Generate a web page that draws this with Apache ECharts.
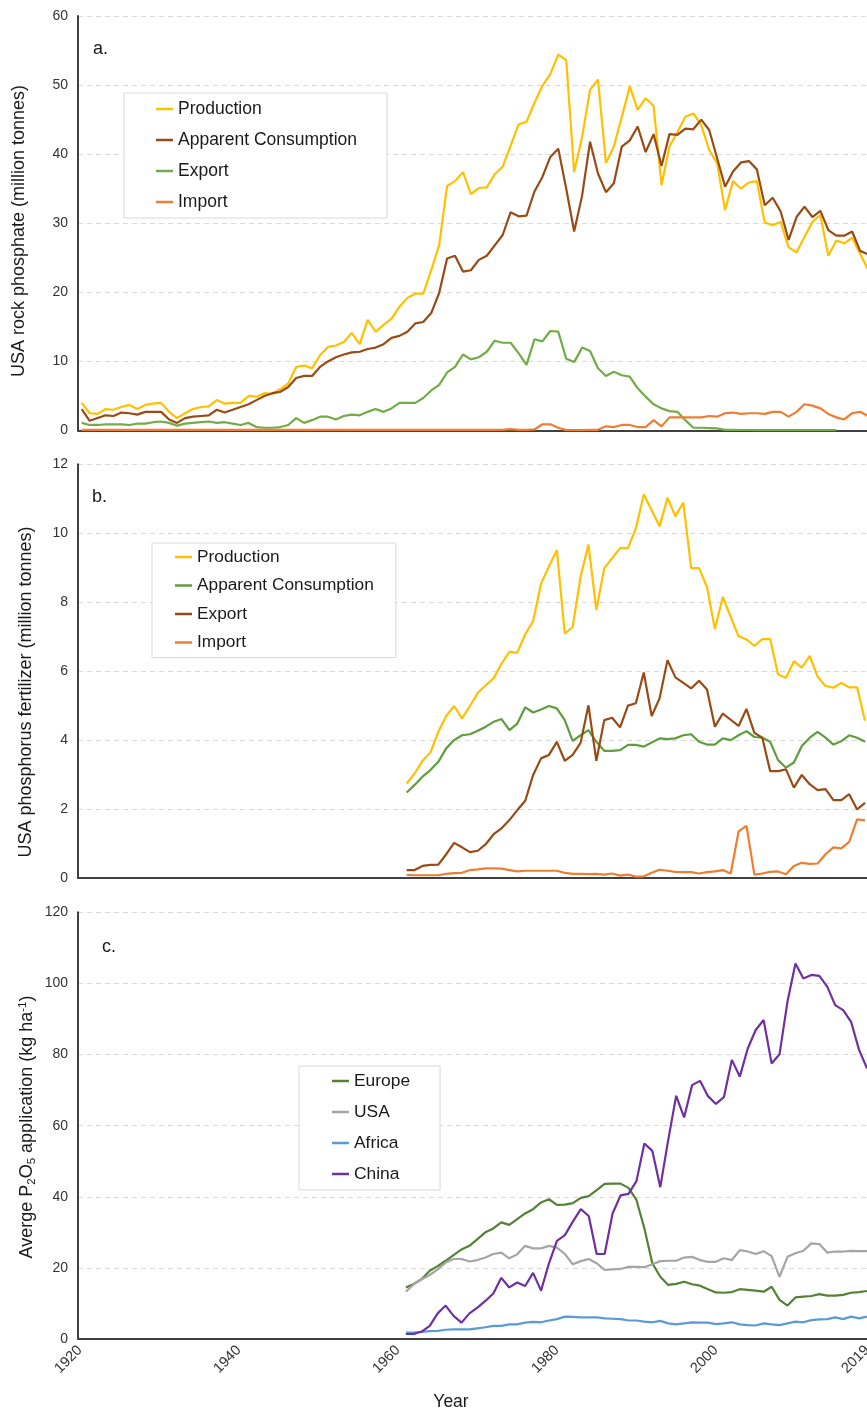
<!DOCTYPE html>
<html>
<head>
<meta charset="utf-8">
<title>USA phosphate rock, phosphorus fertilizer and P2O5 application</title>
<script src="https://cdn.jsdelivr.net/npm/echarts@6.0.0/dist/echarts.min.js"></script>
<style>
  html, body { margin: 0; padding: 0; background: #ffffff; }
  #chart { width: 867px; height: 1412px; }
</style>
</head>
<body>
<div id="chart"></div>
<script>
// ---------- data ----------
function yearRange(first, last) {
  const out = [];
  for (let y = first; y <= last; y++) out.push(y);
  return out;
}

// x axis tick labels (bottom panel)
const yearTicks = [1920, 1940, 1960, 1980, 2000, 2019];

// a. USA rock phosphate, million tonnes
const rockYears = yearRange(1920, 2019);
const rockProduction = [
  4.0, 2.5, 2.4, 3.1, 3.0, 3.4, 3.7, 3.1, 3.7, 3.9,
  4.0, 2.7, 1.8, 2.5, 3.1, 3.4, 3.5, 4.4, 3.9, 4.0,
  4.0, 5.0, 4.9, 5.4, 5.3, 6.0, 6.8, 9.2, 9.4, 9.0,
  10.9, 12.1, 12.3, 12.8, 14.1, 12.5, 16.0, 14.3, 15.3, 16.2,
  17.9, 19.2, 19.8, 19.8, 23.2, 26.8, 35.4, 36.1, 37.4, 34.2,
  35.1, 35.2, 37.1, 38.2, 41.2, 44.3, 44.7, 47.4, 49.9, 51.6,
  54.4, 53.6, 37.4, 42.5, 49.3, 50.8, 38.7, 41.1, 45.4, 49.8,
  46.4, 48.1, 47.0, 35.5, 41.1, 43.2, 45.4, 45.9, 44.2, 40.6,
  38.7, 31.9, 36.1, 35.0, 35.9, 36.1, 30.1, 29.7, 30.2, 26.5,
  25.8, 28.0, 30.2, 31.2, 25.3, 27.5, 27.1, 27.9, 25.6, 23.3
];
const rockConsumption = [
  3.1, 1.4, 1.8, 2.2, 2.1, 2.6, 2.5, 2.3, 2.7, 2.7,
  2.7, 1.6, 1.1, 1.8, 2.0, 2.1, 2.2, 3.0, 2.6, 3.0,
  3.4, 3.8, 4.4, 5.0, 5.4, 5.6, 6.3, 7.6, 7.9, 7.9,
  9.2, 10.0, 10.6, 11.0, 11.3, 11.4, 11.8, 12.0, 12.5, 13.4,
  13.7, 14.3, 15.5, 15.7, 17.0, 19.9, 24.9, 25.3, 23.0, 23.2,
  24.7, 25.3, 26.8, 28.3, 31.6, 31.0, 31.1, 34.6, 36.7, 39.6,
  40.8, 35.0, 28.8, 34.0, 41.8, 37.2, 34.5, 35.8, 41.1, 42.0,
  44.0, 40.3, 42.9, 38.3, 42.9, 42.8, 43.7, 43.6, 45.0, 43.5,
  39.4, 35.3, 37.5, 38.8, 39.0, 37.8, 32.6, 33.7, 31.7, 27.6,
  30.9, 32.4, 30.9, 31.8, 29.0, 28.2, 28.2, 28.8, 26.0, 25.5
];
const rockExportYears = yearRange(1920, 2015);
const rockExport = [
  1.1, 0.8, 0.8, 0.9, 0.9, 0.9, 0.8, 1.0, 1.0, 1.2,
  1.3, 1.1, 0.7, 1.0, 1.1, 1.2, 1.3, 1.1, 1.2, 1.0,
  0.8, 1.1, 0.5, 0.4, 0.4, 0.5, 0.8, 1.8, 1.1, 1.5,
  2.0, 2.0, 1.6, 2.1, 2.3, 2.2, 2.7, 3.1, 2.7, 3.2,
  4.0, 4.0, 4.0, 4.7, 5.8, 6.6, 8.4, 9.2, 11.0, 10.3,
  10.6, 11.4, 13.0, 12.7, 12.7, 11.2, 9.5, 13.2, 12.9, 14.4,
  14.3, 10.4, 9.9, 12.0, 11.5, 9.0, 7.9, 8.5, 8.0, 7.8,
  6.1, 4.9, 3.8, 3.2, 2.8, 2.7, 1.5, 0.4, 0.4, 0.35,
  0.3, 0.08, 0.08, 0.07, 0.07, 0.06, 0.06, 0.06, 0.06, 0.05,
  0.05, 0.05, 0.05, 0.05, 0.05, 0.05
];
const rockImport = [
  0.1, 0.1, 0.1, 0.1, 0.1, 0.1, 0.1, 0.1, 0.1, 0.1,
  0.1, 0.1, 0.1, 0.1, 0.1, 0.1, 0.1, 0.1, 0.1, 0.1,
  0.1, 0.1, 0.1, 0.1, 0.1, 0.1, 0.1, 0.1, 0.1, 0.1,
  0.1, 0.1, 0.1, 0.1, 0.1, 0.1, 0.1, 0.1, 0.1, 0.1,
  0.1, 0.1, 0.1, 0.1, 0.1, 0.1, 0.1, 0.1, 0.1, 0.1,
  0.1, 0.1, 0.1, 0.1, 0.2, 0.1, 0.1, 0.15, 0.9, 0.9,
  0.4, 0.05, 0.05, 0.05, 0.1, 0.1, 0.6, 0.5, 0.8, 0.8,
  0.5, 0.5, 1.5, 0.6, 1.9, 1.9, 1.9, 1.9, 1.9, 2.1,
  2.0, 2.5, 2.6, 2.4, 2.5, 2.5, 2.4, 2.7, 2.7, 2.0,
  2.7, 3.8, 3.6, 3.2, 2.4, 1.9, 1.6, 2.5, 2.7, 2.1
];

// b. USA phosphorus fertilizer, million tonnes
const fertYears = yearRange(1961, 2019);
const fertProduction = [
  2.74, 3.03, 3.40, 3.64, 4.24, 4.70, 4.99, 4.63, 4.99, 5.37,
  5.59, 5.79, 6.22, 6.56, 6.54, 7.07, 7.45, 8.54, 9.04, 9.51,
  7.09, 7.28, 8.73, 9.67, 7.77, 8.99, 9.28, 9.57, 9.57, 10.14,
  11.13, 10.67, 10.20, 11.03, 10.49, 10.89, 8.99, 8.99, 8.44, 7.22,
  8.15, 7.57, 7.01, 6.92, 6.73, 6.93, 6.93, 5.90, 5.81, 6.29,
  6.10, 6.44, 5.84, 5.57, 5.52, 5.66, 5.53, 5.53, 4.56
];
const fertConsumption = [
  2.48, 2.70, 2.94, 3.13, 3.37, 3.76, 4.00, 4.14, 4.17, 4.27,
  4.39, 4.53, 4.61, 4.29, 4.48, 4.95, 4.80, 4.89, 4.99, 4.92,
  4.58, 3.98, 4.14, 4.29, 3.95, 3.69, 3.69, 3.71, 3.86, 3.86,
  3.81, 3.93, 4.05, 4.03, 4.05, 4.14, 4.17, 3.95, 3.87, 3.87,
  4.05, 4.00, 4.14, 4.26, 4.09, 4.07, 3.95, 3.42, 3.20, 3.35,
  3.83, 4.07, 4.24, 4.07, 3.87, 3.97, 4.14, 4.07, 3.95
];
const fertExport = [
  0.23, 0.23, 0.35, 0.38, 0.39, 0.69, 1.02, 0.89, 0.75, 0.79,
  0.98, 1.27, 1.44, 1.68, 1.97, 2.24, 2.99, 3.47, 3.57, 3.95,
  3.40, 3.57, 3.92, 5.01, 3.40, 4.58, 4.65, 4.37, 5.00, 5.07,
  5.96, 4.70, 5.21, 6.32, 5.82, 5.66, 5.50, 5.72, 5.47, 4.39,
  4.77, 4.59, 4.41, 4.90, 4.21, 4.07, 3.10, 3.10, 3.15, 2.62,
  2.99, 2.72, 2.55, 2.58, 2.26, 2.26, 2.43, 1.99, 2.18
];
const fertImport = [
  0.09, 0.08, 0.08, 0.08, 0.08, 0.12, 0.14, 0.15, 0.23, 0.25,
  0.28, 0.28, 0.27, 0.23, 0.19, 0.21, 0.21, 0.21, 0.21, 0.21,
  0.15, 0.12, 0.12, 0.11, 0.12, 0.10, 0.13, 0.07, 0.10, 0.04,
  0.05, 0.15, 0.24, 0.21, 0.18, 0.17, 0.17, 0.13, 0.17, 0.19,
  0.23, 0.13, 1.35, 1.51, 0.10, 0.13, 0.18, 0.19, 0.11, 0.35,
  0.44, 0.41, 0.42, 0.69, 0.89, 0.86, 1.05, 1.70, 1.67
];

// c. average P2O5 application, kg per hectare
const p2o5Years = yearRange(1961, 2019);
const p2o5Europe = [
  14.5, 15.5, 16.9, 19.2, 20.5, 22.0, 23.6, 25.2, 26.2, 28.1,
  30.0, 31.1, 32.8, 32.1, 33.7, 35.3, 36.5, 38.4, 39.3, 37.7,
  37.8, 38.2, 39.7, 40.2, 41.9, 43.6, 43.7, 43.7, 42.5, 39.1,
  31.1, 21.3, 17.5, 15.2, 15.5, 16.1, 15.4, 15.0, 14.0, 13.1,
  13.0, 13.2, 14.0, 13.8, 13.6, 13.3, 14.7, 11.0, 9.4, 11.7,
  11.9, 12.1, 12.6, 12.2, 12.2, 12.4, 13.0, 13.2, 13.5
];
const p2o5USA = [
  13.3, 15.4, 16.8, 18.0, 19.6, 21.5, 22.5, 22.5, 21.8, 22.2,
  22.9, 23.9, 24.3, 22.7, 23.8, 26.2, 25.5, 25.5, 26.2, 25.7,
  23.9, 21.0, 21.9, 22.5, 21.3, 19.4, 19.6, 19.7, 20.3, 20.3,
  20.2, 21.0, 21.9, 22.0, 22.0, 22.9, 23.1, 22.2, 21.7, 21.7,
  22.7, 22.2, 25.0, 24.6, 23.9, 24.7, 23.3, 17.5, 23.1, 24.1,
  24.8, 26.9, 26.7, 24.3, 24.6, 24.6, 24.8, 24.7, 24.7
];
const p2o5Africa = [
  1.8, 1.8, 2.0, 2.2, 2.3, 2.6, 2.7, 2.7, 2.7, 3.0,
  3.3, 3.7, 3.7, 4.1, 4.1, 4.6, 4.8, 4.7, 5.2, 5.6,
  6.3, 6.2, 6.1, 6.1, 6.1, 5.8, 5.7, 5.6, 5.2, 5.2,
  4.9, 4.7, 5.1, 4.4, 4.1, 4.4, 4.7, 4.6, 4.6, 4.2,
  4.4, 4.7, 4.1, 3.9, 3.8, 4.4, 4.1, 3.9, 4.4, 4.9,
  4.7, 5.3, 5.5, 5.6, 6.1, 5.6, 6.3, 5.8, 6.3
];
const p2o5China = [
  1.4, 1.4, 2.1, 3.7, 7.2, 9.4, 6.5, 4.6, 7.2, 8.8,
  10.7, 12.8, 17.2, 14.5, 15.9, 14.9, 18.6, 13.6, 21.3, 27.6,
  29.2, 33.0, 36.5, 34.6, 23.9, 23.9, 35.3, 40.4, 40.8, 44.4,
  55.0, 52.9, 42.7, 56.0, 68.4, 62.3, 71.4, 72.6, 68.3, 66.1,
  68.0, 78.5, 73.8, 81.7, 86.9, 89.7, 77.5, 80.1, 94.9, 105.6,
  101.4, 102.4, 102.1, 99.1, 93.9, 92.5, 89.2, 81.3, 76.1
];

// ---------- styling helpers ----------
const FONT = '"Liberation Sans", Arial, Helvetica, sans-serif';
const AXIS_COLOR = '#404040';
const TEXT_COLOR = '#1a1a1a';
// panel b reuses panel a's legend names; a zero-width mark keeps the series apart
const ZW = '\u200b';

function pairs(years, values) {
  return values.map((v, i) => [years[i], v]);
}

function lineSeries(name, years, values, color, panel) {
  return {
    type: 'line',
    name: name,
    xAxisIndex: panel,
    yAxisIndex: panel,
    data: pairs(years, values),
    showSymbol: false,
    symbol: 'none',
    lineStyle: { color: color, width: 2.2 },
    itemStyle: { color: color },
    emphasis: { disabled: true },
    animation: false
  };
}

function xAxisFor(panel, min, max, withLabels) {
  return {
    type: 'value',
    gridIndex: panel,
    min: min,
    max: max,
    axisLine: { show: true, onZero: false, lineStyle: { color: AXIS_COLOR, width: 2 } },
    axisTick: { show: false },
    splitLine: { show: false },
    axisLabel: withLabels ? {
      show: true,
      customValues: yearTicks,
      formatter: v => String(v),
      rotate: 45,
      margin: 9,
      fontSize: 14.5,
      fontFamily: FONT,
      color: '#333333'
    } : { show: false }
  };
}

function yAxisFor(panel, max, interval) {
  return {
    type: 'value',
    gridIndex: panel,
    min: 0,
    max: max,
    interval: interval,
    axisLine: { show: true, lineStyle: { color: AXIS_COLOR, width: 2 } },
    axisTick: { show: false },
    axisLabel: { fontSize: 14, fontFamily: FONT, color: '#333333', margin: 10 },
    splitLine: { show: true, lineStyle: { color: '#d9d9d9', width: 1, type: [5, 4] } }
  };
}

function legendFor(names, left, top, padding, gap, fontSize) {
  return {
    data: names,
    orient: 'vertical',
    left: left,
    top: top,
    padding: padding,
    itemGap: gap,
    itemWidth: 17,
    itemHeight: 2.5,
    icon: 'rect',
    selectedMode: false,
    borderColor: '#d9d9d9',
    borderWidth: 1,
    backgroundColor: '#ffffff',
    formatter: n => n.replace(/\u200b/g, ''),
    textStyle: { fontSize: fontSize, lineHeight: 18, fontFamily: FONT, color: TEXT_COLOR }
  };
}

function panelLetter(text, left, top) {
  return {
    type: 'text',
    left: left,
    top: top,
    style: { text: text, fontSize: 18, fontFamily: FONT, fill: TEXT_COLOR }
  };
}

// vertical axis title, centred on (cx, cy), reading bottom to top
function axisTitle(text, cx, cy, rich) {
  const style = {
    text: text, fontSize: 18, fontFamily: FONT, fill: TEXT_COLOR,
    align: 'center', verticalAlign: 'middle'
  };
  if (rich) style.rich = rich;
  return { type: 'text', x: cx, y: cy, rotation: Math.PI / 2, style: style };
}

// ---------- chart ----------
const chart = echarts.init(document.getElementById('chart'), null, { renderer: 'canvas' });

const option = {
  backgroundColor: '#ffffff',
  animation: false,
  grid: [
    { left: 78, right: 0, top: 16, height: 414.5, outerBoundsMode: 'none' },
    { left: 78, right: 0, top: 464.3, height: 413.7, outerBoundsMode: 'none' },
    { left: 78, right: 0, top: 912.3, height: 426.7, outerBoundsMode: 'none' }
  ],
  xAxis: [
    xAxisFor(0, 1919.53, 2018.87, false),
    xAxisFor(1, 1919.4, 2019.25, false),
    xAxisFor(2, 1919.76, 2019.0, true)
  ],
  yAxis: [
    yAxisFor(0, 60, 10),
    yAxisFor(1, 12, 2),
    yAxisFor(2, 120, 20)
  ],
  legend: [
    legendFor(['Production', 'Apparent Consumption', 'Export', 'Import'],
      124, 93, [7, 30, 7, 32], 13, 17.5),
    legendFor(['Production' + ZW, 'Apparent Consumption' + ZW, 'Export' + ZW, 'Import' + ZW],
      152, 543, [5, 22, 6, 23], 10.5, 17.3),
    legendFor(['Europe', 'USA', 'Africa', 'China'],
      299, 1066, [6, 30, 7, 33], 13, 17.4)
  ],
  graphic: [
    panelLetter('a.', 93, 40),
    panelLetter('b.', 92, 488),
    panelLetter('c.', 102, 938),
    axisTitle('USA rock phosphate (million tonnes)', 19.5, 231),
    axisTitle('USA phosphorus fertilizer (million tonnes)', 26.5, 692),
    axisTitle('{t|Averge P}{s|2}{t|O}{s|5}{t| application (kg ha}{u|-1}{t|)}', 27, 1127, {
      t: { fontSize: 18, lineHeight: 21, fontFamily: FONT, fill: TEXT_COLOR },
      s: { fontSize: 11.5, lineHeight: 12, verticalAlign: 'bottom', fontFamily: FONT, fill: TEXT_COLOR },
      u: { fontSize: 11.5, lineHeight: 12, verticalAlign: 'top', fontFamily: FONT, fill: TEXT_COLOR }
    }),
    {
      type: 'text',
      x: 451,
      y: 1402,
      style: { text: 'Year', fontSize: 17.5, fontFamily: FONT, fill: TEXT_COLOR, align: 'center', verticalAlign: 'middle' }
    }
  ],
  series: [
    lineSeries('Production', rockYears, rockProduction, '#FFC000', 0),
    lineSeries('Apparent Consumption', rockYears, rockConsumption, '#9A4A14', 0),
    lineSeries('Export', rockExportYears, rockExport, '#70AD47', 0),
    lineSeries('Import', rockYears, rockImport, '#ED7D31', 0),

    lineSeries('Production' + ZW, fertYears, fertProduction, '#FFC000', 1),
    lineSeries('Apparent Consumption' + ZW, fertYears, fertConsumption, '#5E9E3C', 1),
    lineSeries('Export' + ZW, fertYears, fertExport, '#9A4A14', 1),
    lineSeries('Import' + ZW, fertYears, fertImport, '#ED7D31', 1),

    lineSeries('Europe', p2o5Years, p2o5Europe, '#548235', 2),
    lineSeries('USA', p2o5Years, p2o5USA, '#A5A5A5', 2),
    lineSeries('Africa', p2o5Years, p2o5Africa, '#5B9BD5', 2),
    lineSeries('China', p2o5Years, p2o5China, '#7030A0', 2)
  ]
};

chart.setOption(option);
</script>
</body>
</html>
